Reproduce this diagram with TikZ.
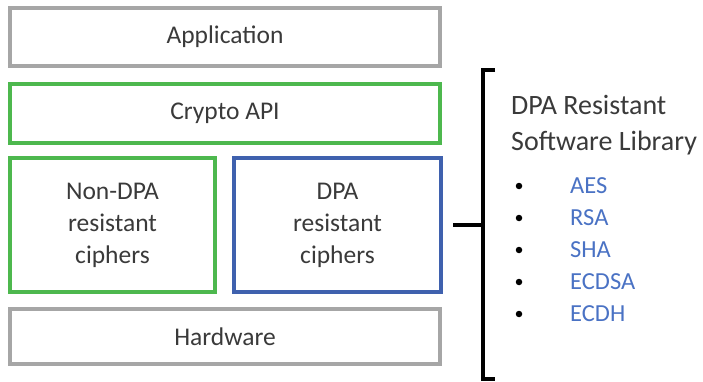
\documentclass[tikz,border=0pt]{standalone}
\usepackage{fontspec}
\setmainfont{Carlito}
\definecolor{boxgray}{HTML}{A6A6A6}
\definecolor{boxgreen}{HTML}{4DB84E}
\definecolor{boxblue}{HTML}{3F61AE}
\definecolor{txt}{HTML}{3A3A3A}
\definecolor{itemblue}{HTML}{4A72C4}
\begin{document}
\begin{tikzpicture}[x=1pt,y=-1pt,
  layer/.style={draw, line width=3.8pt, fill=white, inner sep=0pt, text=txt,
    font=\fontsize{25.5}{32}\selectfont, align=center},
  graybox/.style={layer, draw=boxgray},
  greenbox/.style={layer, draw=boxgreen},
  bluebox/.style={layer, draw=boxblue},
  header/.style={anchor=base west, inner sep=0pt, text=txt, font=\fontsize{28}{32}\selectfont},
  item/.style={anchor=base west, inner sep=0pt, text=itemblue, font=\fontsize{24.5}{30}\selectfont},
  dot/.style={circle, fill=black, inner sep=0pt, minimum size=6.5pt},
  bracket/.style={line width=4pt, black}
]
\useasboundingbox (0,0) rectangle (703,382);
\node[graybox, minimum width=430pt, minimum height=58pt] (app) at (225,37) {Application};
\node[greenbox, minimum width=430pt, minimum height=59pt] (api) at (225,113.5) {Crypto API};
\node[greenbox, minimum width=205pt, minimum height=134pt] (non) at (112.5,225) {Non-DPA\\resistant\\ciphers};
\node[bluebox, minimum width=207pt, minimum height=134pt] (dpa) at (337.5,225) {DPA\\resistant\\ciphers};
\node[graybox, minimum width=430pt, minimum height=55pt] (hw) at (225,336.5) {Hardware};

\coordinate (bt) at (495,70);
\coordinate (bb) at (495,379);
\coordinate (bm) at (483,225);
\coordinate (stem) at (453,225);
\draw[bracket] (bt) -- (483,70) -- (483,379) -- (bb);
\draw[bracket] (stem) -- (bm);

\node[header] (h1) at (511,115) {DPA Resistant};
\node[header] (h2) at (511,150) {Software Library};

\node[item] (aes) at (570,193) {AES};
\node[item] (rsa) at (570,225) {RSA};
\node[item] (sha) at (570,257) {SHA};
\node[item] (ecdsa) at (570,289) {ECDSA};
\node[item] (ecdh) at (570,321) {ECDH};
\node[dot] (d1) at (519,186) {};
\node[dot] (d2) at (519,218) {};
\node[dot] (d3) at (519,250) {};
\node[dot] (d4) at (519,282) {};
\node[dot] (d5) at (519,314) {};
\end{tikzpicture}
\end{document}
